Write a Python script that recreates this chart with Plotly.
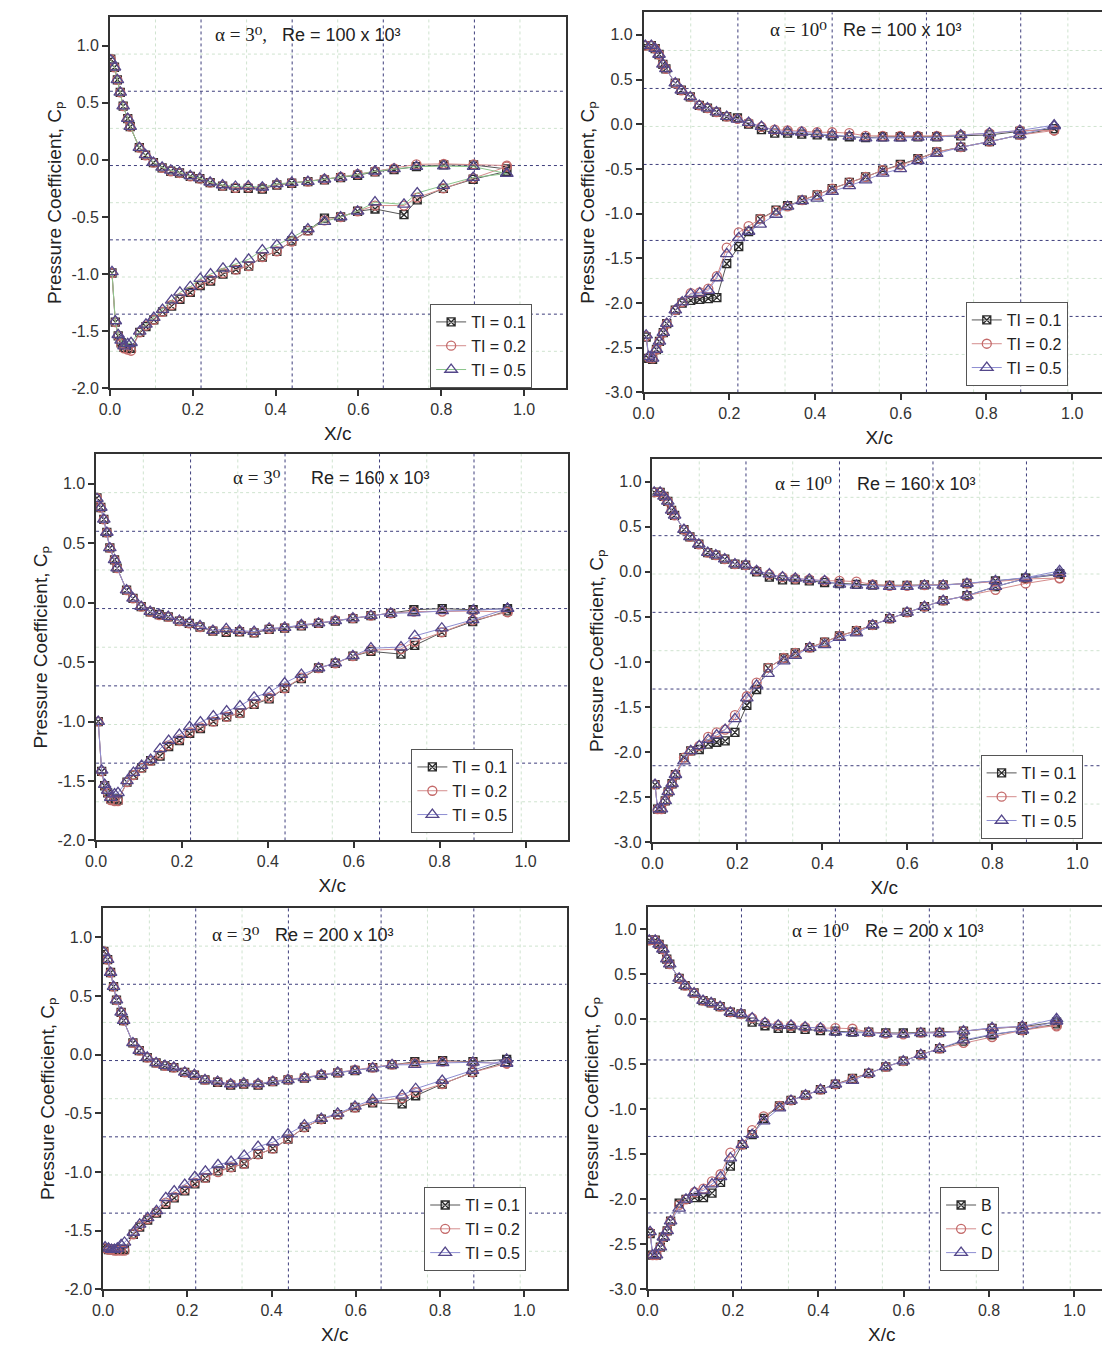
import plotly.graph_objects as go

W, H = 1110, 1353

# ---------------- data ----------------
# pressure-tap chord positions (alpha = 3 deg panels)
X3_UP = [0.002, 0.011, 0.018, 0.025, 0.032, 0.043, 0.049, 0.071, 0.086, 0.105, 0.126, 0.147, 0.168, 0.194, 0.217, 0.242,
         0.272, 0.303, 0.334, 0.368, 0.403, 0.439, 0.478, 0.518, 0.557, 0.598, 0.640, 0.686, 0.740, 0.806, 0.878, 0.958]
X3_LO = [0.005, 0.013, 0.020, 0.027, 0.034, 0.043, 0.051, 0.072, 0.087, 0.106, 0.127, 0.149, 0.169, 0.194, 0.218, 0.243,
         0.273, 0.304, 0.335, 0.368, 0.403, 0.439, 0.478, 0.518, 0.557, 0.598, 0.640, 0.710, 0.742, 0.805, 0.877, 0.958]
# pressure-tap chord positions (alpha = 10 deg panels)
X10_UP = [0.004, 0.018, 0.027, 0.036, 0.045, 0.052, 0.074, 0.088, 0.109, 0.130, 0.149, 0.170, 0.194, 0.219, 0.245, 0.275,
          0.306, 0.336, 0.369, 0.405, 0.440, 0.480, 0.518, 0.558, 0.599, 0.640, 0.684, 0.740, 0.807, 0.878, 0.958]
X10_LO = [0.006, 0.012, 0.021, 0.030, 0.037, 0.046, 0.054, 0.074, 0.090, 0.110, 0.131, 0.151, 0.171, 0.194, 0.222, 0.245,
          0.272, 0.309, 0.336, 0.370, 0.405, 0.440, 0.480, 0.518, 0.558, 0.599, 0.640, 0.684, 0.740, 0.807, 0.878, 0.958]

# alpha = 3, Re = 100e3
TL_UP_01 = [0.88, 0.81, 0.70, 0.59, 0.47, 0.36, 0.29, 0.107, 0.04, -0.025, -0.07, -0.10, -0.115, -0.145, -0.165, -0.20,
            -0.23, -0.25, -0.25, -0.255, -0.22, -0.205, -0.19, -0.175, -0.155, -0.135, -0.105, -0.085, -0.06, -0.045, -0.045, -0.08]
TL_UP_02 = [0.88, 0.81, 0.70, 0.59, 0.47, 0.36, 0.29, 0.107, 0.04, -0.025, -0.07, -0.10, -0.115, -0.145, -0.165, -0.20,
            -0.225, -0.245, -0.24, -0.245, -0.215, -0.20, -0.19, -0.17, -0.15, -0.125, -0.10, -0.075, -0.04, -0.035, -0.04, -0.05]
TL_UP_05 = [0.87, 0.81, 0.70, 0.59, 0.47, 0.36, 0.29, 0.107, 0.043, -0.023, -0.066, -0.092, -0.11, -0.14, -0.16, -0.196,
            -0.22, -0.233, -0.23, -0.24, -0.21, -0.20, -0.19, -0.17, -0.153, -0.13, -0.10, -0.08, -0.06, -0.055, -0.06, -0.12]
TL_LO_01 = [-0.99, -1.42, -1.54, -1.60, -1.64, -1.65, -1.65, -1.51, -1.46, -1.40, -1.33, -1.28, -1.22, -1.16, -1.10, -1.06,
            -1.00, -0.96, -0.93, -0.85, -0.80, -0.71, -0.62, -0.51, -0.50, -0.45, -0.43, -0.48, -0.35, -0.25, -0.17, -0.10]
TL_LO_02 = [-0.99, -1.42, -1.54, -1.61, -1.65, -1.66, -1.67, -1.51, -1.45, -1.40, -1.33, -1.27, -1.21, -1.15, -1.09, -1.05,
            -0.99, -0.96, -0.93, -0.85, -0.80, -0.715, -0.62, -0.53, -0.50, -0.45, -0.40, -0.40, -0.33, -0.25, -0.16, -0.06]
TL_LO_05 = [-0.98, -1.41, -1.53, -1.58, -1.63, -1.61, -1.60, -1.50, -1.44, -1.38, -1.31, -1.23, -1.16, -1.11, -1.04, -1.00,
            -0.95, -0.91, -0.87, -0.79, -0.745, -0.68, -0.605, -0.54, -0.50, -0.45, -0.37, -0.39, -0.29, -0.225, -0.155, -0.12]

# alpha = 3, Re = 160e3
ML_UP_01 = [0.88, 0.80, 0.70, 0.59, 0.46, 0.36, 0.29, 0.106, 0.036, -0.034, -0.078, -0.10, -0.12, -0.155, -0.175, -0.205,
            -0.24, -0.25, -0.245, -0.255, -0.225, -0.215, -0.195, -0.175, -0.155, -0.135, -0.11, -0.09, -0.06, -0.05, -0.06, -0.05]
ML_UP_02 = [0.88, 0.80, 0.70, 0.59, 0.46, 0.36, 0.29, 0.106, 0.036, -0.034, -0.078, -0.105, -0.12, -0.155, -0.175, -0.205,
            -0.235, -0.24, -0.24, -0.25, -0.22, -0.21, -0.19, -0.17, -0.15, -0.13, -0.11, -0.09, -0.075, -0.075, -0.07, -0.08]
ML_UP_05 = [0.874, 0.80, 0.70, 0.59, 0.46, 0.36, 0.29, 0.106, 0.036, -0.034, -0.075, -0.10, -0.117, -0.15, -0.17, -0.196,
            -0.235, -0.22, -0.235, -0.243, -0.215, -0.21, -0.187, -0.173, -0.154, -0.13, -0.11, -0.09, -0.085, -0.07, -0.065, -0.05]
ML_LO_01 = [-1.0, -1.42, -1.54, -1.60, -1.65, -1.65, -1.66, -1.51, -1.45, -1.39, -1.33, -1.29, -1.21, -1.16, -1.10, -1.06,
            -1.00, -0.96, -0.93, -0.855, -0.81, -0.72, -0.64, -0.55, -0.51, -0.45, -0.41, -0.433, -0.36, -0.25, -0.16, -0.07]
ML_LO_02 = [-1.0, -1.42, -1.54, -1.60, -1.66, -1.67, -1.67, -1.51, -1.45, -1.39, -1.33, -1.28, -1.20, -1.15, -1.09, -1.05,
            -1.00, -0.96, -0.93, -0.85, -0.80, -0.72, -0.63, -0.55, -0.51, -0.45, -0.40, -0.39, -0.33, -0.25, -0.15, -0.08]
ML_LO_05 = [-1.0, -1.41, -1.53, -1.58, -1.64, -1.61, -1.60, -1.50, -1.43, -1.37, -1.32, -1.23, -1.16, -1.11, -1.045, -1.005,
            -0.955, -0.913, -0.87, -0.796, -0.754, -0.676, -0.606, -0.55, -0.508, -0.447, -0.383, -0.374, -0.28, -0.215, -0.145, -0.05]

# alpha = 3, Re = 200e3
BL_UP_01 = [0.88, 0.81, 0.70, 0.58, 0.465, 0.36, 0.29, 0.10, 0.034, -0.025, -0.07, -0.095, -0.11, -0.15, -0.175, -0.215,
            -0.235, -0.26, -0.25, -0.26, -0.23, -0.215, -0.20, -0.175, -0.155, -0.135, -0.11, -0.085, -0.06, -0.05, -0.06, -0.04]
BL_UP_02 = [0.88, 0.81, 0.70, 0.58, 0.465, 0.36, 0.29, 0.10, 0.034, -0.025, -0.07, -0.095, -0.11, -0.15, -0.172, -0.215,
            -0.23, -0.25, -0.245, -0.25, -0.225, -0.21, -0.195, -0.17, -0.15, -0.13, -0.11, -0.085, -0.07, -0.06, -0.065, -0.075]
BL_UP_05 = [0.87, 0.81, 0.70, 0.58, 0.465, 0.36, 0.29, 0.10, 0.034, -0.023, -0.07, -0.093, -0.107, -0.15, -0.17, -0.214,
            -0.228, -0.25, -0.242, -0.248, -0.228, -0.214, -0.197, -0.172, -0.15, -0.135, -0.115, -0.087, -0.085, -0.07, -0.065, -0.075]
BL_LO_01 = [-1.65, -1.66, -1.66, -1.66, -1.66, -1.66, -1.66, -1.53, -1.47, -1.41, -1.35, -1.275, -1.22, -1.16, -1.10, -1.05,
            -0.99, -0.96, -0.93, -0.85, -0.80, -0.72, -0.62, -0.55, -0.51, -0.45, -0.41, -0.42, -0.35, -0.25, -0.15, -0.06]
BL_LO_02 = [-1.65, -1.66, -1.66, -1.67, -1.67, -1.67, -1.67, -1.53, -1.46, -1.40, -1.34, -1.26, -1.21, -1.15, -1.09, -1.05,
            -1.00, -0.96, -0.93, -0.85, -0.80, -0.72, -0.62, -0.55, -0.51, -0.45, -0.40, -0.37, -0.32, -0.25, -0.15, -0.075]
BL_LO_05 = [-1.64, -1.65, -1.66, -1.66, -1.65, -1.62, -1.60, -1.515, -1.445, -1.39, -1.33, -1.22, -1.163, -1.107, -1.04, -0.994,
            -0.938, -0.91, -0.86, -0.783, -0.746, -0.676, -0.60, -0.544, -0.50, -0.44, -0.383, -0.346, -0.29, -0.22, -0.135, -0.04]

# alpha = 10, Re = 100e3
TR_UP_01 = [0.88, 0.88, 0.846, 0.78, 0.67, 0.62, 0.46, 0.38, 0.305, 0.21, 0.18, 0.136, 0.085, 0.07, 0.0, -0.06,
            -0.10, -0.10, -0.11, -0.12, -0.13, -0.14, -0.15, -0.14, -0.14, -0.14, -0.14, -0.13, -0.12, -0.08, -0.05]
TR_UP_02 = [0.88, 0.88, 0.846, 0.78, 0.67, 0.62, 0.46, 0.38, 0.305, 0.21, 0.18, 0.136, 0.085, 0.06, 0.015, -0.03,
            -0.06, -0.07, -0.08, -0.09, -0.09, -0.10, -0.13, -0.13, -0.13, -0.13, -0.13, -0.12, -0.10, -0.07, -0.07]
TR_UP_05 = [0.88, 0.88, 0.846, 0.78, 0.67, 0.62, 0.46, 0.38, 0.305, 0.21, 0.18, 0.136, 0.085, 0.055, 0.018, -0.026,
            -0.07, -0.085, -0.09, -0.107, -0.118, -0.136, -0.155, -0.155, -0.155, -0.147, -0.147, -0.12, -0.10, -0.07, -0.01]
TR_LO_01 = [-2.38, -2.62, -2.63, -2.52, -2.43, -2.33, -2.23, -2.08, -2.00, -1.97, -1.96, -1.95, -1.94, -1.56, -1.37, -1.20,
            -1.06, -0.96, -0.91, -0.85, -0.79, -0.72, -0.65, -0.59, -0.515, -0.45, -0.386, -0.31, -0.257, -0.195, -0.12, -0.05]
TR_LO_02 = [-2.37, -2.61, -2.62, -2.52, -2.43, -2.33, -2.23, -2.08, -1.99, -1.89, -1.88, -1.84, -1.70, -1.38, -1.21, -1.14,
            -1.06, -0.97, -0.92, -0.85, -0.79, -0.72, -0.65, -0.59, -0.515, -0.46, -0.39, -0.31, -0.257, -0.195, -0.12, -0.07]
TR_LO_05 = [-2.36, -2.60, -2.62, -2.52, -2.43, -2.33, -2.23, -2.08, -1.99, -1.90, -1.89, -1.86, -1.72, -1.45, -1.27, -1.20,
            -1.12, -1.01, -0.92, -0.857, -0.83, -0.754, -0.69, -0.625, -0.55, -0.50, -0.41, -0.33, -0.257, -0.195, -0.12, -0.02]

# alpha = 10, Re = 160e3
MR_UP_01 = [0.88, 0.88, 0.835, 0.78, 0.68, 0.625, 0.467, 0.386, 0.305, 0.213, 0.184, 0.14, 0.085, 0.074, 0.0, -0.06,
            -0.09, -0.09, -0.10, -0.12, -0.13, -0.14, -0.147, -0.15, -0.15, -0.145, -0.145, -0.13, -0.10, -0.07, -0.02]
MR_UP_02 = [0.88, 0.88, 0.835, 0.78, 0.68, 0.625, 0.467, 0.386, 0.305, 0.213, 0.184, 0.14, 0.085, 0.074, 0.01, -0.03,
            -0.06, -0.075, -0.085, -0.10, -0.10, -0.11, -0.14, -0.155, -0.155, -0.147, -0.147, -0.13, -0.11, -0.08, -0.074]
MR_UP_05 = [0.88, 0.88, 0.835, 0.78, 0.68, 0.625, 0.467, 0.386, 0.305, 0.213, 0.184, 0.14, 0.085, 0.074, 0.011, -0.026,
            -0.06, -0.074, -0.085, -0.10, -0.14, -0.15, -0.155, -0.165, -0.165, -0.15, -0.15, -0.13, -0.10, -0.066, 0.01]
MR_LO_01 = [-2.36, -2.63, -2.63, -2.54, -2.44, -2.35, -2.25, -2.06, -1.985, -1.97, -1.91, -1.89, -1.875, -1.78, -1.48, -1.305,
            -1.066, -0.956, -0.90, -0.84, -0.78, -0.71, -0.654, -0.59, -0.52, -0.45, -0.386, -0.32, -0.265, -0.165, -0.074, -0.03]
MR_LO_02 = [-2.36, -2.63, -2.63, -2.54, -2.44, -2.35, -2.25, -2.06, -1.985, -1.93, -1.83, -1.78, -1.75, -1.59, -1.38, -1.23,
            -1.066, -0.956, -0.90, -0.84, -0.78, -0.71, -0.654, -0.59, -0.52, -0.45, -0.386, -0.32, -0.27, -0.20, -0.13, -0.07]
MR_LO_05 = [-2.36, -2.63, -2.63, -2.54, -2.44, -2.35, -2.25, -2.10, -1.985, -1.93, -1.86, -1.81, -1.75, -1.63, -1.40, -1.26,
            -1.13, -0.99, -0.93, -0.84, -0.81, -0.73, -0.68, -0.59, -0.52, -0.45, -0.386, -0.32, -0.265, -0.165, -0.074, -0.02]

# alpha = 10, Re = 200e3
BR_UP_01 = [0.88, 0.88, 0.835, 0.78, 0.67, 0.614, 0.456, 0.375, 0.294, 0.21, 0.184, 0.143, 0.08, 0.0625, -0.03, -0.07,
            -0.10, -0.10, -0.11, -0.125, -0.13, -0.14, -0.14, -0.15, -0.15, -0.145, -0.145, -0.13, -0.10, -0.08, -0.03]
BR_UP_02 = [0.88, 0.88, 0.835, 0.78, 0.67, 0.614, 0.456, 0.375, 0.294, 0.21, 0.184, 0.143, 0.08, 0.0625, 0.015, -0.037,
            -0.066, -0.07, -0.085, -0.096, -0.096, -0.103, -0.14, -0.158, -0.165, -0.147, -0.147, -0.13, -0.10, -0.077, -0.077]
BR_UP_05 = [0.88, 0.88, 0.835, 0.78, 0.67, 0.614, 0.456, 0.375, 0.294, 0.21, 0.184, 0.143, 0.08, 0.0625, 0.015, -0.037,
            -0.066, -0.066, -0.085, -0.096, -0.14, -0.15, -0.145, -0.16, -0.165, -0.15, -0.15, -0.13, -0.092, -0.077, 0.007]
BR_LO_01 = [-2.38, -2.62, -2.62, -2.53, -2.42, -2.35, -2.24, -2.04, -2.00, -1.98, -1.98, -1.93, -1.81, -1.63, -1.39, -1.28,
            -1.10, -0.96, -0.90, -0.84, -0.78, -0.72, -0.654, -0.60, -0.526, -0.463, -0.39, -0.324, -0.24, -0.17, -0.12, -0.05]
BR_LO_02 = [-2.37, -2.62, -2.62, -2.53, -2.42, -2.35, -2.24, -2.06, -2.00, -1.92, -1.88, -1.80, -1.72, -1.48, -1.39, -1.23,
            -1.077, -0.96, -0.90, -0.84, -0.78, -0.72, -0.66, -0.60, -0.526, -0.463, -0.39, -0.324, -0.26, -0.195, -0.12, -0.066]
BR_LO_05 = [-2.36, -2.62, -2.62, -2.53, -2.42, -2.35, -2.24, -2.10, -2.00, -1.92, -1.90, -1.83, -1.75, -1.54, -1.39, -1.28,
            -1.13, -0.985, -0.90, -0.84, -0.78, -0.72, -0.68, -0.60, -0.526, -0.463, -0.39, -0.324, -0.23, -0.165, -0.12, -0.02]

SERIES_TI = ["TI = 0.1", "TI = 0.2", "TI = 0.5"]
SERIES_BCD = ["B", "C", "D"]
X_TICKVALS = [0.0, 0.2, 0.4, 0.6, 0.8, 1.0]
X_TICKTEXT = ["0.0", "0.2", "0.4", "0.6", "0.8", "1.0"]
Y3_TICKVALS = [-2.0, -1.5, -1.0, -0.5, 0.0, 0.5, 1.0]
Y3_TICKTEXT = ["-2.0", "-1.5", "-1.0", "-0.5", "0.0", "0.5", "1.0"]
Y10_TICKVALS = [-3.0, -2.5, -2.0, -1.5, -1.0, -0.5, 0.0, 0.5, 1.0]
Y10_TICKTEXT = ["-3.0", "-2.5", "-2.0", "-1.5", "-1.0", "-0.5", "0.0", "0.5", "1.0"]
X_TITLE = "X/c"
Y_TITLE = "Pressure Coefficient, Cₚ"

# ---------------- layout helpers ----------------
SANS = "Liberation Sans, Arial, Noto Sans, DejaVu Sans, sans-serif"
SERIF = "Liberation Serif, Times New Roman, DejaVu Serif, serif"

panels = [
    dict(xu=X3_UP, xl=X3_LO, up=[TL_UP_01, TL_UP_02, TL_UP_05], lo=[TL_LO_01, TL_LO_02, TL_LO_05],
         frame=(92, 553, 9, 383), xmax=1.1, ymin=-2.0, alpha="α = 3⁰,", re="Re = 100 x 10³",
         apos=(196, 27), rpos=(264, 27), leg=(416, 298), names=SERIES_TI, green=True),
    dict(xu=X10_UP, xl=X10_LO, up=[TR_UP_01, TR_UP_02, TR_UP_05], lo=[TR_LO_01, TR_LO_02, TR_LO_05],
         frame=(632, 1109, 4.5, 387), xmax=1.1, ymin=-3.0, alpha="α = 10⁰", re="Re = 100 x 10³",
         apos=(758, 22), rpos=(832, 22), leg=(958, 296), names=SERIES_TI, green=False),
    dict(xu=X3_UP, xl=X3_LO, up=[ML_UP_01, ML_UP_02, ML_UP_05], lo=[ML_LO_01, ML_LO_02, ML_LO_05],
         frame=(78, 556, 449, 838), xmax=1.1, ymin=-2.0, alpha="α = 3⁰", re="Re = 160 x 10³",
         apos=(215, 473), rpos=(293, 473), leg=(397, 746), names=SERIES_TI, green=False),
    dict(xu=X10_UP, xl=X10_LO, up=[MR_UP_01, MR_UP_02, MR_UP_05], lo=[MR_LO_01, MR_LO_02, MR_LO_05],
         frame=(641, 1110, 454, 840), xmax=(1110 - 641) / 430.0, ymin=-3.0, alpha="α = 10⁰",
         re="Re = 160 x 10³", apos=(763, 479), rpos=(846, 479), leg=(973, 752), names=SERIES_TI, green=False),
    dict(xu=X3_UP, xl=X3_LO, up=[BL_UP_01, BL_UP_02, BL_UP_05], lo=[BL_LO_01, BL_LO_02, BL_LO_05],
         frame=(85, 554, 906, 1290), xmax=1.1, ymin=-2.0, alpha="α = 3⁰", re="Re = 200 x 10³",
         apos=(193, 933), rpos=(257, 933), leg=(410, 1187), names=SERIES_TI, green=False),
    dict(xu=X10_UP, xl=X10_LO, up=[BR_UP_01, BR_UP_02, BR_UP_05], lo=[BR_LO_01, BR_LO_02, BR_LO_05],
         frame=(636, 1110, 905, 1290), xmax=(1110 - 636) / 432.0, ymin=-3.0, alpha="α = 10⁰",
         re="Re = 200 x 10³", apos=(780, 929), rpos=(854, 929), leg=(932, 1187), names=SERIES_BCD, green=False),
]

STYLES = [
    dict(symbol="square-x-open", mcolor="#2b2b2b", lcolor="#555555", size=8),
    dict(symbol="circle-open", mcolor="#c46a6a", lcolor="#d48c8c", size=9),
    dict(symbol="triangle-up-open", mcolor="#54478a", lcolor="#8e8ed2", size=11),
]
GREEN_LINE = "#8cc68c"
MAJOR_GRID = "#3e3e7c"
MINOR_GRID = "#cfe3cf"
YMAX = 1.25

fig = go.Figure()
layout = dict(width=W, height=H, margin=dict(l=0, r=0, t=0, b=0), paper_bgcolor="white", plot_bgcolor="white",
              showlegend=True, font=dict(family=SANS, color="#222222"))
shapes, annotations = [], []

for i, p in enumerate(panels):
    n = i + 1
    sfx = "" if n == 1 else str(n)
    xa, ya = "x" + sfx, "y" + sfx
    leg = "legend" + sfx
    l, r, t, b = p["frame"]
    ymin = p["ymin"]

    for k in range(3):
        st = STYLES[k]
        lc = GREEN_LINE if (k == 2 and p["green"]) else st["lcolor"]
        fig.add_trace(go.Scatter(
            x=list(p["xu"]) + list(p["xl"])[::-1],
            y=list(p["up"][k]) + list(p["lo"][k])[::-1],
            mode="lines+markers", name=p["names"][k], xaxis=xa, yaxis=ya, legend=leg,
            line=dict(color=lc, width=1),
            marker=dict(symbol=st["symbol"], size=st["size"], color=st["mcolor"], line=dict(width=1.3)),
        ))

    yt = Y3_TICKVALS if ymin == -2.0 else Y10_TICKVALS
    ytt = Y3_TICKTEXT if ymin == -2.0 else Y10_TICKTEXT
    axis_common = dict(showline=True, linecolor="#333333", linewidth=1.5, mirror=True, ticks="outside",
                       ticklen=6, tickwidth=1.5, tickcolor="#333333", showgrid=False, zeroline=False,
                       tickfont=dict(family=SANS, size=16, color="#333333"))
    layout["xaxis" + sfx] = dict(axis_common, domain=[l / W, r / W], range=[0, p["xmax"]], anchor=ya,
                                 tickmode="array", tickvals=X_TICKVALS, ticktext=X_TICKTEXT,
                                 title=dict(text=X_TITLE, font=dict(family=SANS, size=19, color="#222222"), standoff=9))
    layout["yaxis" + sfx] = dict(axis_common, domain=[1 - b / H, 1 - t / H], range=[ymin, YMAX], anchor=xa,
                                 tickmode="array", tickvals=yt, ticktext=ytt,
                                 title=dict(text=Y_TITLE, font=dict(family=SANS, size=19, color="#222222"), standoff=5))

    # Origin-style grid: 5 divisions of the full axis span, with minor lines at half steps
    xstep = 1.1 / 5
    ystep = (YMAX - ymin) / 5
    for j in range(1, 10):
        xv = j * xstep / 2
        if xv >= p["xmax"]:
            continue
        major = (j % 2 == 0)
        shapes.append(dict(type="line", xref=xa, yref=ya + " domain", x0=xv, x1=xv, y0=0, y1=1, layer="below",
                           line=dict(color=MAJOR_GRID if major else MINOR_GRID, width=1, dash="dot")))
    for j in range(1, 10):
        yv = ymin + j * ystep / 2
        major = (j % 2 == 0)
        shapes.append(dict(type="line", xref=xa + " domain", yref=ya, x0=0, x1=1, y0=yv, y1=yv, layer="below",
                           line=dict(color=MAJOR_GRID if major else MINOR_GRID, width=1, dash="dot")))

    ax_, ay_ = p["apos"]
    rx_, ry_ = p["rpos"]
    annotations.append(dict(text=p["alpha"], xref="paper", yref="paper", x=ax_ / W, y=1 - ay_ / H,
                            xanchor="left", yanchor="middle", showarrow=False,
                            font=dict(family=SERIF, size=19, color="#222222")))
    annotations.append(dict(text=p["re"], xref="paper", yref="paper", x=rx_ / W, y=1 - ry_ / H,
                            xanchor="left", yanchor="middle", showarrow=False,
                            font=dict(family=SANS, size=18, color="#222222")))

    lx, ly = p["leg"]
    layout[leg] = dict(x=lx / W, y=1 - ly / H, xanchor="left", yanchor="top", xref="paper", yref="paper",
                       bgcolor="white", bordercolor="#555555", borderwidth=1,
                       font=dict(family=SANS, size=16, color="#222222"), tracegroupgap=0, itemwidth=30)

layout["shapes"] = shapes
layout["annotations"] = annotations
fig.update_layout(**layout)
fig.write_html("out.html")
